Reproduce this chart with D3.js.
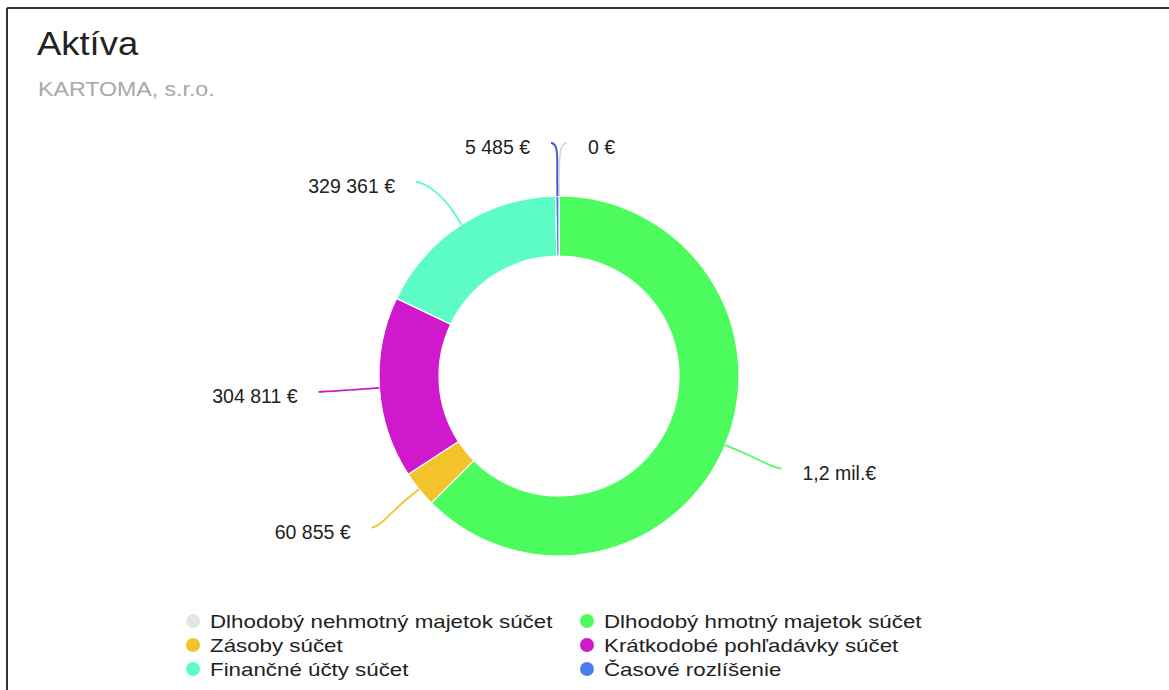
<!DOCTYPE html>
<html><head><meta charset="utf-8">
<script src="https://cdn.jsdelivr.net/npm/d3@7"></script>
<style>
html,body{margin:0;padding:0;background:#fff;}
svg{display:block;font-family:"Liberation Sans",Arial,Helvetica,sans-serif;}
</style></head>
<body>
<svg id="chart" width="1169" height="690"></svg>
<script>
const title = "Aktíva";
const subtitle = "KARTOMA, s.r.o.";
const categories = ["Dlhodobý nehmotný majetok súčet","Dlhodobý hmotný majetok súčet","Zásoby súčet","Krátkodobé pohľadávky súčet","Finančné účty súčet","Časové rozlíšenie"];
const values = [0, 1170000, 60855, 304811, 329361, 5485];
const valueLabels = ["0 €","1,2 mil.€","60 855 €","304 811 €","329 361 €","5 485 €"];
const colors = ["#e4e4e4","#4cfc5e","#f2c42a","#d018cc","#5cfcc4","#4d7ef0"];
const connectorColors = ["#d8d8d8","#4cfc5e","#f2c42a","#d018cc","#5cfcc4","#3355d8"];

const svg = d3.select("#chart");
const W = 1169, H = 690;

function stext(sel, x, y, str, size, sx, fill, anchor){
  return sel.append("text")
    .attr("transform",`translate(${x},${y}) scale(${sx},1)`)
    .attr("font-size",size).attr("fill",fill)
    .attr("text-anchor",anchor||"start").text(str);
}

// frame
svg.append("line").attr("x1",7).attr("y1",8).attr("x2",W).attr("y2",8).attr("stroke","#333").attr("stroke-width",2);
svg.append("line").attr("x1",7).attr("y1",8).attr("x2",7).attr("y2",H).attr("stroke","#333").attr("stroke-width",2);

stext(svg, 37, 55, title, 32.5, 1.12, "#222");
stext(svg, 38, 96, subtitle, 20.5, 1.13, "#a8a8a8");

const cx = 559, cy = 376, R = 180, r0 = 120;
const g = svg.append("g").attr("transform",`translate(${cx},${cy})`);

const data = categories.map((c,i)=>({name:c,value:values[i],label:valueLabels[i],color:colors[i],cc:connectorColors[i]}));
const pie = d3.pie().sort(null).value(d=>d.value).startAngle(0).endAngle(2*Math.PI);
const arcs = pie(data);
const arc = d3.arc().innerRadius(r0).outerRadius(R);

g.selectAll("path.slice").data(arcs).join("path")
  .attr("class","slice")
  .attr("d",arc)
  .attr("fill",d=>d.data.color)
  .attr("stroke","#fff").attr("stroke-width",1.2).attr("stroke-linejoin","round");

// data labels (pie-style distribution per half)
const LR = 241, topLimit = 143 - cy, minGap = 39;
const pt = (a,rad)=>[rad*Math.sin(a), -rad*Math.cos(a)];
const labels = arcs.map(d=>{
  const a = (d.startAngle + d.endAngle)/2;
  const right = a < Math.PI;
  return {d, a, right, sign: right?1:-1, nat: pt(a,LR)};
});
[true,false].forEach(side=>{
  const list = labels.filter(l=>l.right===side).sort((p,q)=>p.nat[1]-q.nat[1]);
  let prev = -Infinity;
  list.forEach(l=>{
    let y = Math.max(l.nat[1], topLimit, prev + minGap);
    let x;
    if (l.nat[1] < topLimit && y === topLimit) x = l.sign*Math.max(Math.abs(l.nat[0]), 8);
    else if (y > l.nat[1]) x = l.sign*Math.sqrt(Math.max(LR*LR - y*y, 0));
    else x = l.nat[0];
    l.P = [x,y];
    prev = y;
  });
});
labels.forEach(l=>{
  const {d,a,sign,P} = l;
  const E = pt(a,R);
  const B = pt(a,R+14);
  const c1 = [B[0] + (B[0]-E[0])*1.6, B[1] + (B[1]-E[1])*1.6];
  const path = d3.path();
  path.moveTo(E[0],E[1]);
  path.lineTo(B[0],B[1]);
  path.bezierCurveTo(c1[0],c1[1],P[0]-sign*8,P[1],P[0],P[1]);
  g.append("path").attr("d",path.toString()).attr("fill","none")
    .attr("stroke",d.data.cc).attr("stroke-width",1.8);
  stext(g, P[0] + sign*21, P[1] + 11, d.data.label, 19.5, 1, "#222", sign>0?"start":"end");
});

// legend
const colX = [193, 587], rowY = [621, 645, 669];
const lg = svg.append("g");
data.forEach((d,i)=>{
  const x = colX[i%2], y = rowY[Math.floor(i/2)];
  lg.append("circle").attr("cx",x).attr("cy",y).attr("r",7).attr("fill",d.color);
  stext(lg, x+17, y+6.5, d.name, 19, 1.175, "#222");
});
</script>
</body></html>
